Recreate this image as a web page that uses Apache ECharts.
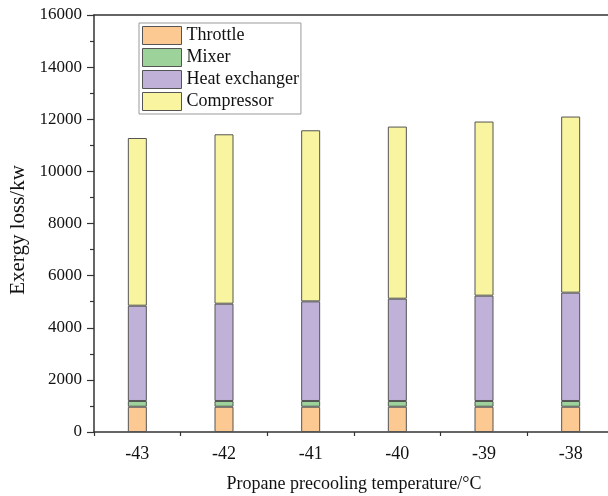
<!DOCTYPE html>
<html><head><meta charset="utf-8">
<script src="https://cdn.jsdelivr.net/npm/echarts@6/dist/echarts.min.js"></script>
<style>html,body{margin:0;padding:0;background:#fff;overflow:hidden}#c{width:608px;height:496px}</style>
</head><body><div id="c"></div>
<script>
const categories = ['-43', '-42', '-41', '-40', '-39', '-38'];
const throttle = [970, 970, 970, 970, 970, 970];
const mixer = [220, 220, 220, 220, 220, 220];
const heatExchanger = [3656, 3733, 3822, 3925, 4041, 4156];
const compressor = [6435, 6500, 6565, 6604, 6681, 6758];
const yTicks = [0, 16000, 2000];

const font = 'Liberation Serif';
const chart = echarts.init(document.getElementById('c'), null, {renderer: 'canvas'});
const border = {borderColor: '#555', borderWidth: 1};
function bar(name, data, color) {
  return {name, type: 'bar', stack: 'total', data, barWidth: 19, xAxisIndex: 0,
    itemStyle: Object.assign({color}, border)};
}
chart.setOption({
  animation: false,
  textStyle: {fontFamily: font, color: '#111'},
  grid: {left: 94, top: 15, width: 520, height: 417, show: false,
    outerBoundsMode: 'none', containLabel: false},
  legend: {
    orient: 'vertical', left: 139, top: 23, icon: 'rect', itemWidth: 39, itemHeight: 18, itemGap: 3,
    padding: [3, 2, 3, 3], borderColor: '#999', borderWidth: 1,
    textStyle: {fontFamily: font, fontSize: 18, color: '#111'},
    itemStyle: {borderColor: '#555', borderWidth: 1},
    data: ['Throttle', 'Mixer', 'Heat exchanger', 'Compressor']
  },
  xAxis: [{
    type: 'category', data: categories, boundaryGap: true,
    name: 'Propane precooling temperature/°C', nameLocation: 'middle', nameGap: 43,
    nameTextStyle: {fontFamily: font, fontSize: 18, color: '#111'},
    axisLine: {lineStyle: {color: '#333', width: 1.5}},
    axisTick: {alignWithLabel: true, length: 6, lineStyle: {color: '#333', width: 1.2}},
    axisLabel: {fontFamily: font, fontSize: 18, color: '#111', margin: 13}
  }, {
    type: 'category', data: categories, boundaryGap: true, position: 'bottom',
    axisLine: {show: false}, axisLabel: {show: false},
    axisTick: {show: true, interval: 0, length: 4, lineStyle: {color: '#333', width: 1.2}}
  }, {
    type: 'category', data: categories, boundaryGap: true, position: 'top',
    axisLine: {show: true, lineStyle: {color: '#333', width: 1.5}},
    axisLabel: {show: false}, axisTick: {show: false}
  }],
  yAxis: {
    type: 'value', min: yTicks[0], max: yTicks[1], interval: yTicks[2],
    name: 'Exergy loss/kw', nameLocation: 'middle', nameGap: 62,
    nameTextStyle: {fontFamily: font, fontSize: 21, color: '#111', padding: [0, 13, 0, 0]},
    axisLine: {show: true, lineStyle: {color: '#333', width: 1.5}},
    axisTick: {show: true, length: 7, lineStyle: {color: '#333', width: 1.2}},
    minorTick: {show: true, splitNumber: 2, length: 4, lineStyle: {color: '#333', width: 1.2}},
    splitLine: {show: false},
    axisLabel: {fontFamily: font, fontSize: 17, color: '#111', margin: 12, formatter: v => String(v)}
  },
  series: [
    bar('Throttle', throttle, '#FCC993'),
    bar('Mixer', mixer, '#9DD39A'),
    bar('Heat exchanger', heatExchanger, '#C0B1D8'),
    bar('Compressor', compressor, '#F8F49F')
  ]
});
</script></body></html>
